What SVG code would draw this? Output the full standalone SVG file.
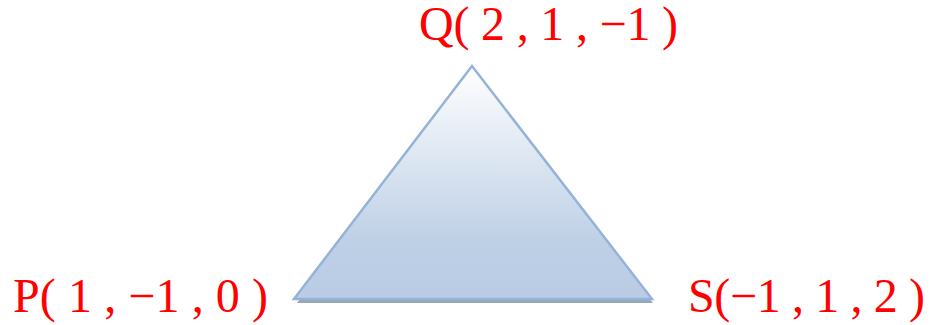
<svg xmlns="http://www.w3.org/2000/svg" width="930" height="325" viewBox="0 0 930 325">
<defs>
<linearGradient id="g" x1="0" y1="0" x2="0" y2="1">
<stop offset="0" stop-color="#ffffff"/>
<stop offset="0.75" stop-color="#bed0e6"/>
<stop offset="1" stop-color="#b9cce4"/>
</linearGradient>
<style>
.lbl{font-family:"Liberation Serif","DejaVu Serif",serif;font-size:48px;fill:#ff0000;}
</style>
</defs>
<rect width="930" height="325" fill="#ffffff"/>
<g id="triangle">
<polygon points="472,69 297,303 653,303" fill="#8e9db3" opacity="0.9"/>
<polygon points="472,66 294,299 652,299" fill="url(#g)" stroke="#95b3d7" stroke-width="2.5" stroke-linejoin="miter"/>
</g>
<g id="Q"><text class="lbl" x="419" y="40" textLength="259" lengthAdjust="spacing">Q( 2 , 1 , −1 )</text></g>
<g id="P"><text class="lbl" x="13" y="312" textLength="255" lengthAdjust="spacing">P( 1 , −1 , 0 )</text></g>
<g id="S"><text class="lbl" x="688" y="312" textLength="237" lengthAdjust="spacing">S(−1 , 1 , 2 )</text></g>
</svg>
